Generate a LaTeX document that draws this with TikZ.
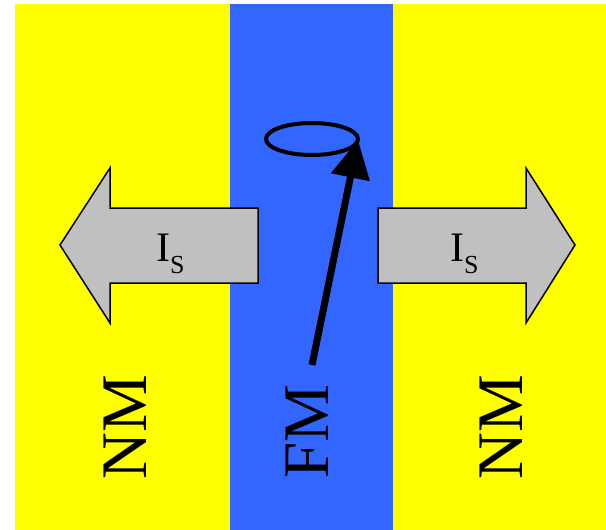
\documentclass[tikz,border=0pt]{standalone}
\usepackage{fontspec}
\setmainfont{Liberation Serif}
\usetikzlibrary{arrows.meta}
\definecolor{nmyellow}{RGB}{255,255,0}
\definecolor{fmblue}{RGB}{51,102,255}
\definecolor{arrgray}{RGB}{192,192,192}
\tikzset{
  layer/.style={draw=none},
  flowarrow/.style={fill=arrgray, draw=black, line width=1.5pt, line join=miter},
  isl/.style={anchor=base west, inner sep=0pt, font=\fontsize{42}{42}\selectfont},
  lbl/.style={rotate=90, inner sep=0pt, font=\fontsize{65}{65}\selectfont},
}
\begin{document}
\begin{tikzpicture}[x=1pt,y=-1pt]
\useasboundingbox (0,0) rectangle (606,530);
% layers
\fill[nmyellow] (15,4) rectangle (606,530);
\fill[fmblue] (230,4) rectangle (393,530);
% spin current arrows
\path[flowarrow] (258,208) -- (110,208) -- (110,168) -- (60,245) -- (110,323) -- (110,283) -- (258,283) -- cycle;
\path[flowarrow] (378,208) -- (526,208) -- (526,168) -- (575,245) -- (526,323) -- (526,283) -- (378,283) -- cycle;
\node[isl] (isleft) at (156,261) {I\raisebox{-12pt}{\fontsize{26}{26}\selectfont S}};
\node[isl] (isright) at (450,261) {I\raisebox{-12pt}{\fontsize{26}{26}\selectfont S}};
% magnetization precession
\draw[line width=4pt] (312,139) ellipse [x radius=46, y radius=16];
\coordinate (mbase) at (312,365);
\coordinate (mtip) at (358,140);
\draw[line width=7pt, -{Triangle[length=38pt,width=38pt]}] (mbase) -- (mtip);
% labels
\node[lbl] (nml) at (125,427) {NM};
\node[lbl] (fm) at (307,432) {FM};
\node[lbl] (nmr) at (501,427) {NM};
\end{tikzpicture}
\end{document}
